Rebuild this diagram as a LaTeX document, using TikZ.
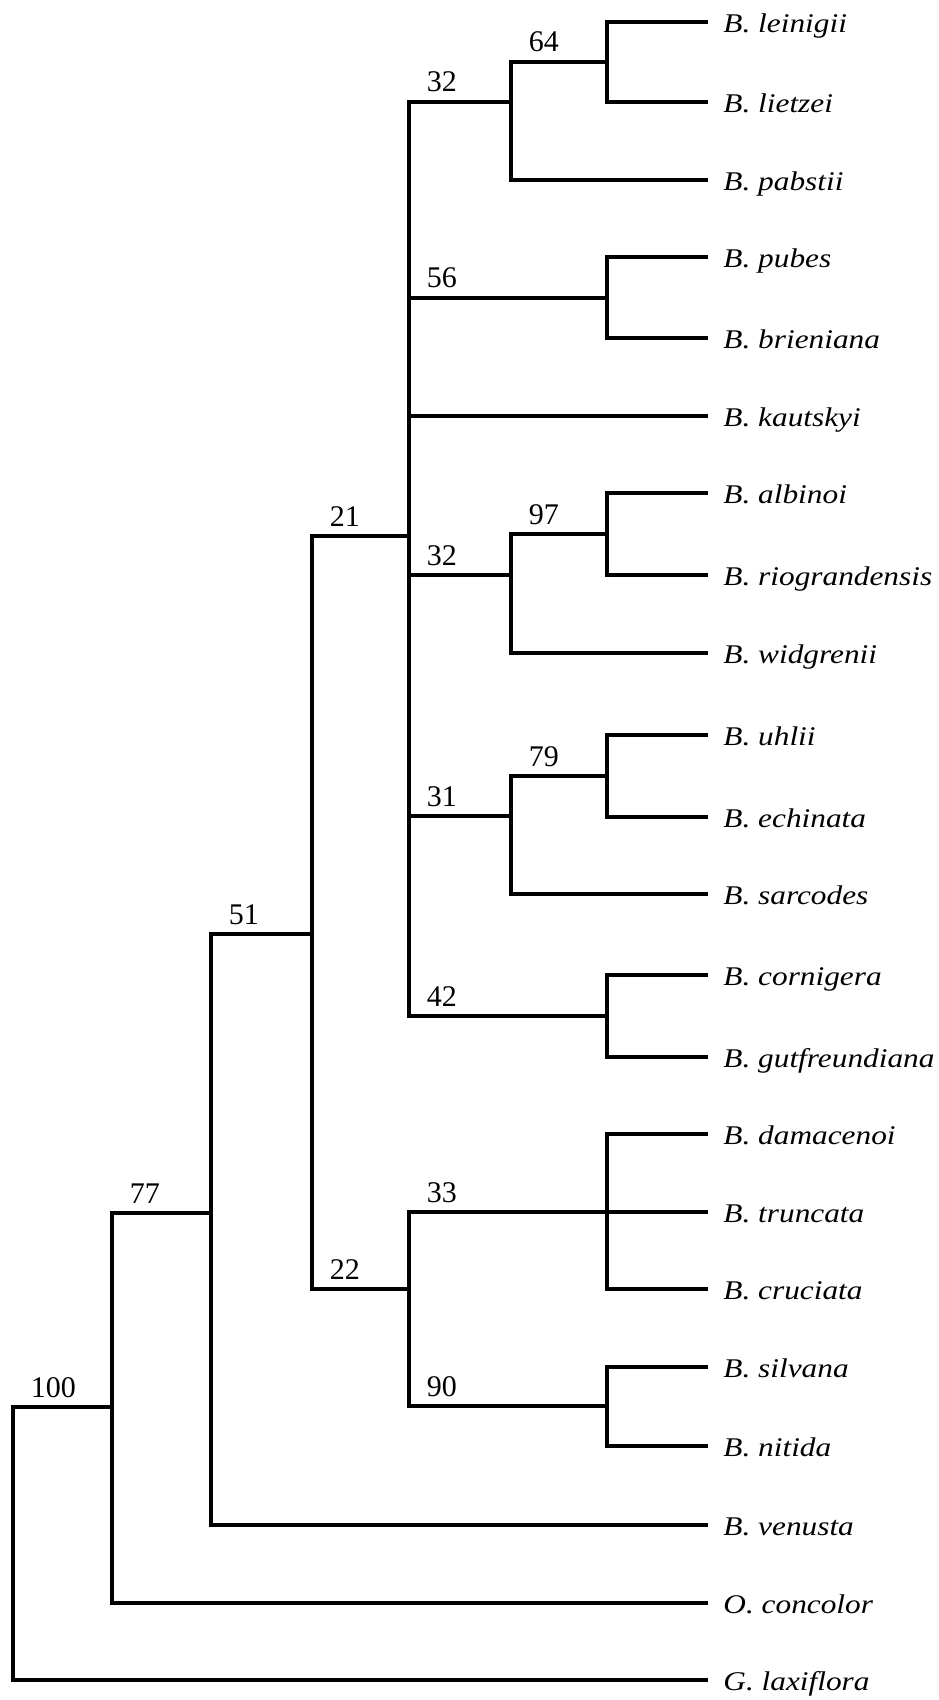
\documentclass[tikz,border=0pt]{standalone}
\usepackage{fontspec}
\setmainfont{Liberation Serif}
\usepackage{graphicx}
\newcommand{\taxname}[1]{\scalebox{1.16}[1]{\itshape #1}}

\begin{document}
\begin{tikzpicture}[
        x=0.5pt, y=-0.5pt,
        branch/.style={line width=1.75pt, line cap=rect},
        taxon/.style={anchor=base west, inner sep=0pt, font=\fontsize{13.5}{16}\selectfont},
        support/.style={pos=0.5, anchor=base west, inner sep=0pt, xshift=8pt, yshift=5pt,
            font=\fontsize{15}{18}\selectfont}
    ]
    \useasboundingbox (0,0) rectangle (938,1700);

    % taxa, top to bottom
    \foreach \nm/\yy/\txt in {
            leinigii/22/B. leinigii, lietzei/102/B. lietzei, pabstii/180/B. pabstii,
            pubes/257/B. pubes, brieniana/338/B. brieniana, kautskyi/416/B. kautskyi,
            albinoi/493/B. albinoi, riograndensis/575/B. riograndensis, widgrenii/653/B. widgrenii,
            uhlii/735/B. uhlii, echinata/817/B. echinata, sarcodes/894/B. sarcodes,
            cornigera/975/B. cornigera, gutfreundiana/1057/B. gutfreundiana,
            damacenoi/1134/B. damacenoi, truncata/1212/B. truncata, cruciata/1289/B. cruciata,
            silvana/1367/B. silvana, nitida/1446/B. nitida, venusta/1525/B. venusta,
            concolor/1603/O. concolor, laxiflora/1680/G. laxiflora} {
        \coordinate (\nm-tip) at (706, \yy);
        \node[taxon] (\nm) at (723, \yy+10.5) {\taxname{\txt}};
    }

    % internal nodes
    \coordinate (root) at (13, 1407);
    \coordinate (n100) at (112, 1407);
    \coordinate (n77) at (211, 1213);
    \coordinate (n51) at (312, 934);
    \coordinate (n21) at (409, 536);
    \coordinate (n22) at (409, 1289);
    \coordinate (n32a) at (511, 102);
    \coordinate (n64) at (607, 62);
    \coordinate (n56) at (607, 298);
    \coordinate (n32b) at (511, 575);
    \coordinate (n97) at (607, 534);
    \coordinate (n31) at (511, 816);
    \coordinate (n79) at (607, 776);
    \coordinate (n42) at (607, 1016);
    \coordinate (n33) at (607, 1212);
    \coordinate (n90) at (607, 1406);

    \draw[branch] (root) |- node[support] (s100) {100} (n100);
    \draw[branch] (root) |- (laxiflora-tip);
    \draw[branch] (n100) |- node[support] (s77) {77} (n77);
    \draw[branch] (n100) |- (concolor-tip);
    \draw[branch] (n77) |- node[support] (s51) {51} (n51);
    \draw[branch] (n77) |- (venusta-tip);
    \draw[branch] (n51) |- node[support] (s21) {21} (n21);
    \draw[branch] (n51) |- node[support] (s22) {22} (n22);

    % the large polytomy
    \draw[branch] (n21) |- node[support] (s32a) {32} (n32a);
    \draw[branch] (n21) |- node[support] (s56) {56} (n56);
    \draw[branch] (n21) |- (kautskyi-tip);
    \draw[branch] (n21) |- node[support] (s32b) {32} (n32b);
    \draw[branch] (n21) |- node[support] (s31) {31} (n31);
    \draw[branch] (n21) |- node[support] (s42) {42} (n42);

    \draw[branch] (n32a) |- node[support] (s64) {64} (n64);
    \draw[branch] (n32a) |- (pabstii-tip);
    \draw[branch] (n64) |- (leinigii-tip);
    \draw[branch] (n64) |- (lietzei-tip);
    \draw[branch] (n56) |- (pubes-tip);
    \draw[branch] (n56) |- (brieniana-tip);
    \draw[branch] (n32b) |- node[support] (s97) {97} (n97);
    \draw[branch] (n32b) |- (widgrenii-tip);
    \draw[branch] (n97) |- (albinoi-tip);
    \draw[branch] (n97) |- (riograndensis-tip);
    \draw[branch] (n31) |- node[support] (s79) {79} (n79);
    \draw[branch] (n31) |- (sarcodes-tip);
    \draw[branch] (n79) |- (uhlii-tip);
    \draw[branch] (n79) |- (echinata-tip);
    \draw[branch] (n42) |- (cornigera-tip);
    \draw[branch] (n42) |- (gutfreundiana-tip);

    \draw[branch] (n22) |- node[support] (s33) {33} (n33);
    \draw[branch] (n22) |- node[support] (s90) {90} (n90);
    \draw[branch] (n33) |- (damacenoi-tip);
    \draw[branch] (n33) |- (truncata-tip);
    \draw[branch] (n33) |- (cruciata-tip);
    \draw[branch] (n90) |- (silvana-tip);
    \draw[branch] (n90) |- (nitida-tip);
\end{tikzpicture}
\end{document}
